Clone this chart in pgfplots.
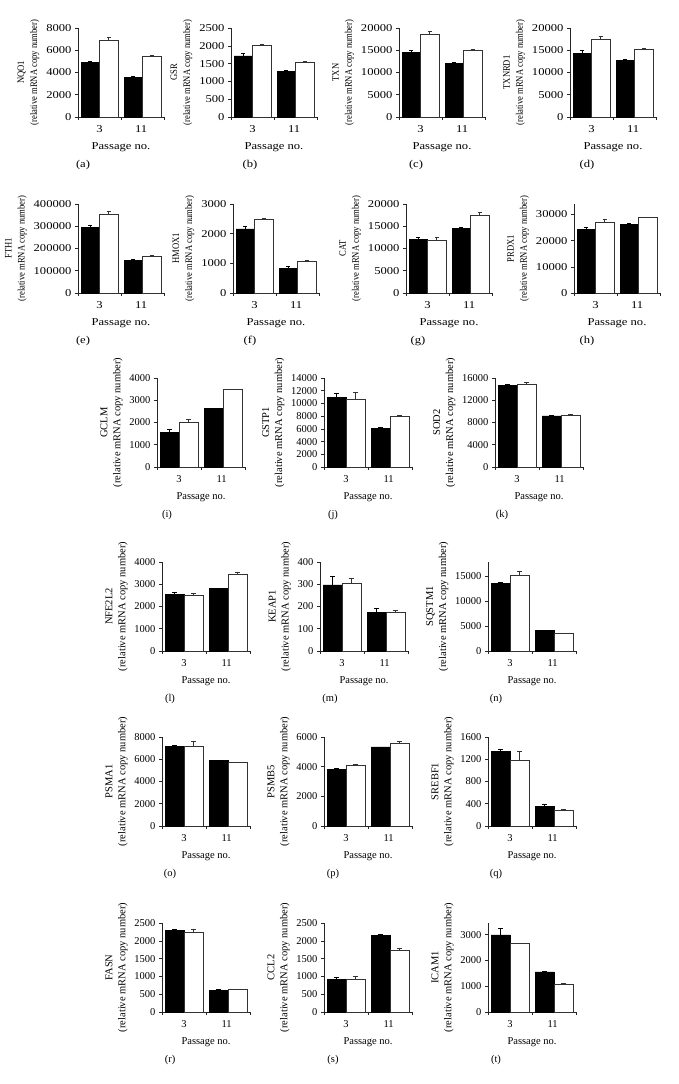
\documentclass[border=0pt]{standalone}
\usepackage{fontspec}
\setmainfont{Liberation Serif}
\newfontfamily\widefont{Liberation Serif}[FakeStretch=1.2]
\newfontfamily\narrowfont{Liberation Serif}[FakeStretch=0.86]
\usepackage{pgfplots}
\pgfplotsset{compat=1.18}

% rows 1-2 of the figure are stretched sideways, rows 3-6 are not
\def\tfont{\widefont}
\def\yfont{\narrowfont\fontsize{10}{13}\selectfont}

\pgfplotsset{
  panel/.style={
    scale only axis, width=86pt, height=89pt, anchor=south west,
    xmin=-0.5, xmax=1.5, ymin=0,
    axis x line=bottom, axis y line=left,
    axis line style={-, black!85, line width=0.6pt},
    tick align=outside, tick style={black!85, line width=0.6pt},
    major tick length=3pt,
    xtick={-0.5,0.5,1.5}, xticklabels={,,},
    extra x ticks={0,0.97}, extra x tick labels={3,11},
    extra x tick style={major tick length=0pt},
    xticklabel style={yshift=-5pt},
    scaled y ticks=false,
    tick label style={font=\tfont\fontsize{10.5}{12}\selectfont},
    /pgf/number format/.cd, fixed, 1000 sep={}, assume math mode=true, /pgfplots/.cd,
    xlabel={Passage no.},
    xlabel style={font=\tfont\fontsize{10.5}{12}\selectfont},
    ylabel style={font=\yfont, align=center},
  },
  blk/.style={ybar, bar width=0.43, bar shift=0pt, fill=black, draw=black, line width=0.5pt,
    error bars/.cd, y dir=plus, y explicit,
    error bar style={black, line width=0.6pt},
    error mark options={rotate=90, black, line width=0.6pt, mark size=2.2pt}},
  wht/.style={ybar, bar width=0.43, bar shift=0pt, fill=white, draw=black!80, line width=0.7pt,
    error bars/.cd, y dir=plus, y explicit,
    error bar style={black!80, line width=0.6pt},
    error mark options={rotate=90, black!80, line width=0.6pt, mark size=2.2pt}},
}
\tikzset{subcap/.style={font=\tfont\fontsize{10.5}{12}\selectfont}}

\begin{document}
\begin{tikzpicture}
\useasboundingbox (0,0) rectangle (678pt,-1084pt);

% ---- row 1
\begin{axis}[panel, at={(78pt,-117pt)}, ymax=8000, ytick={0,2000,...,8000}, ylabel={NQO1\\(relative mRNA copy number)}]
\addplot[blk] coordinates {(-0.215,4910) +- (0,100) (0.785,3590) +- (0,60)};
\addplot[wht] coordinates {(0.215,6920) +- (0,270) (1.215,5420) +- (0,150)};
\end{axis}
\node[subcap] at (83pt,-165pt) {(a)};

\begin{axis}[panel, at={(231pt,-117pt)}, ymax=2500, ytick={0,500,...,2500}, ylabel={GSR\\(relative mRNA copy number)}]
\addplot[blk] coordinates {(-0.215,1720) +- (0,60) (0.785,1280) +- (0,40)};
\addplot[wht] coordinates {(0.215,2020) +- (0,25) (1.215,1530) +- (0,25)};
\end{axis}
\node[subcap] at (250pt,-165pt) {(b)};

\begin{axis}[panel, at={(399pt,-117pt)}, ymax=20000, ytick={0,5000,...,20000}, ylabel={TXN\\(relative mRNA copy number)}]
\addplot[blk] coordinates {(-0.215,14600) +- (0,500) (0.785,12060) +- (0,200)};
\addplot[wht] coordinates {(0.215,18500) +- (0,650) (1.215,14980) +- (0,300)};
\end{axis}
\node[subcap] at (416pt,-165pt) {(c)};

\begin{axis}[panel, at={(570pt,-117pt)}, ymax=20000, ytick={0,5000,...,20000}, ylabel={TXNRD1\\(relative mRNA copy number)}]
\addplot[blk] coordinates {(-0.215,14380) +- (0,500) (0.785,12660) +- (0,200)};
\addplot[wht] coordinates {(0.215,17380) +- (0,650) (1.215,15200) +- (0,300)};
\end{axis}
\node[subcap] at (587pt,-165pt) {(d)};

% ---- row 2
\begin{axis}[panel, at={(78pt,-293pt)}, ymax=400000, ytick={0,100000,...,400000}, ylabel={FTH1\\(relative mRNA copy number)}]
\addplot[blk] coordinates {(-0.215,294700) +- (0,10000) (0.785,147400) +- (0,3000)};
\addplot[wht] coordinates {(0.215,354900) +- (0,12000) (1.215,163900) +- (0,4000)};
\end{axis}
\node[subcap] at (83pt,-341pt) {(e)};

\begin{axis}[panel, at={(233pt,-293pt)}, ymax=3000, ytick={0,1000,2000,3000}, ylabel={HMOX1\\(relative mRNA copy number)}]
\addplot[blk] coordinates {(-0.215,2165) +- (0,100) (0.785,823) +- (0,80)};
\addplot[wht] coordinates {(0.215,2480) +- (0,40) (1.215,1071) +- (0,35)};
\end{axis}
\node[subcap] at (250pt,-341pt) {(f)};

\begin{axis}[panel, at={(406pt,-293pt)}, ymax=20000, ytick={0,5000,...,20000}, ylabel={CAT\\(relative mRNA copy number)}]
\addplot[blk] coordinates {(-0.215,12100) +- (0,500) (0.785,14440) +- (0,300)};
\addplot[wht] coordinates {(0.215,11800) +- (0,680) (1.215,17440) +- (0,600)};
\end{axis}
\node[subcap] at (418pt,-341pt) {(g)};

\begin{axis}[panel, at={(574pt,-293pt)}, ymax=34000, ytick={0,10000,20000,30000}, ylabel={PRDX1\\(relative mRNA copy number)}]
\addplot[blk] coordinates {(-0.215,24300) +- (0,900) (0.785,26200) +- (0,300)};
\addplot[wht] coordinates {(0.215,27090) +- (0,1250) (1.215,28860) +- (0,250)};
\end{axis}
\node[subcap] at (587pt,-341pt) {(h)};

\def\tfont{\rmfamily}
\def\yfont{\rmfamily\fontsize{10.5}{13}\selectfont}

% ---- row 3
\begin{axis}[panel, width=88pt, at={(157pt,-467pt)}, ymax=4000, ytick={0,1000,...,4000}, ylabel={GCLM\\(relative mRNA copy number)}]
\addplot[blk] coordinates {(-0.215,1573) +- (0,100) (0.785,2622) +- (0,20)};
\addplot[wht] coordinates {(0.215,2022) +- (0,110) (1.215,3476) +- (0,25)};
\end{axis}
\node[subcap] at (167pt,-515pt) {(i)};

\begin{axis}[panel, width=88pt, at={(324pt,-467pt)}, ymax=14000, ytick={0,2000,...,14000}, ylabel={GSTP1\\(relative mRNA copy number)}]
\addplot[blk] coordinates {(-0.215,10990) +- (0,580) (0.785,6130) +- (0,160)};
\addplot[wht] coordinates {(0.215,10670) +- (0,1100) (1.215,7920) +- (0,160)};
\end{axis}
\node[subcap] at (333pt,-515pt) {(j)};

\begin{axis}[panel, width=88pt, at={(495pt,-467pt)}, ymax=16000, ytick={0,4000,...,16000}, ylabel={SOD2\\(relative mRNA copy number)}]
\addplot[blk] coordinates {(-0.215,14700) +- (0,130) (0.785,9200) +- (0,60)};
\addplot[wht] coordinates {(0.215,14900) +- (0,350) (1.215,9300) +- (0,120)};
\end{axis}
\node[subcap] at (502pt,-515pt) {(k)};

% ---- row 4
\begin{axis}[panel, width=88pt, at={(162pt,-651pt)}, ymax=4000, ytick={0,1000,...,4000}, ylabel={NFE2L2\\(relative mRNA copy number)}]
\addplot[blk] coordinates {(-0.215,2546) +- (0,80) (0.785,2820) +- (0,10)};
\addplot[wht] coordinates {(0.215,2500) +- (0,90) (1.215,3450) +- (0,90)};
\end{axis}
\node[subcap] at (170pt,-699pt) {(l)};

\begin{axis}[panel, width=88pt, at={(320pt,-651pt)}, ymax=400, ytick={0,100,...,400}, ylabel={KEAP1\\(relative mRNA copy number)}]
\addplot[blk] coordinates {(-0.215,297) +- (0,40) (0.785,174) +- (0,16)};
\addplot[wht] coordinates {(0.215,305) +- (0,23) (1.215,174) +- (0,7)};
\end{axis}
\node[subcap] at (330pt,-699pt) {(m)};

\begin{axis}[panel, width=88pt, at={(488pt,-651pt)}, ymax=17800, ytick={0,5000,10000,15000}, ylabel={SQSTM1\\(relative mRNA copy number)}]
\addplot[blk] coordinates {(-0.215,13470) +- (0,330) (0.785,4070) +- (0,130)};
\addplot[wht] coordinates {(0.215,15070) +- (0,800) (1.215,3470) +- (0,130)};
\end{axis}
\node[subcap] at (496pt,-699pt) {(n)};

% ---- row 5
\begin{axis}[panel, width=88pt, at={(162pt,-826pt)}, ymax=8000, ytick={0,2000,...,8000}, ylabel={PSMA1\\(relative mRNA copy number)}]
\addplot[blk] coordinates {(-0.215,7170) +- (0,120) (0.785,5890) +- (0,60)};
\addplot[wht] coordinates {(0.215,7170) +- (0,480) (1.215,5680) +- (0,90)};
\end{axis}
\node[subcap] at (170pt,-874pt) {(o)};

\begin{axis}[panel, width=88pt, at={(324pt,-826pt)}, ymax=6000, ytick={0,2000,4000,6000}, ylabel={PSMB5\\(relative mRNA copy number)}]
\addplot[blk] coordinates {(-0.215,3840) +- (0,50) (0.785,5330) +- (0,0)};
\addplot[wht] coordinates {(0.215,4110) +- (0,50) (1.215,5560) +- (0,130)};
\end{axis}
\node[subcap] at (333pt,-874pt) {(p)};

\begin{axis}[panel, width=88pt, at={(488pt,-826pt)}, ymax=1600, ytick={0,400,...,1600}, ylabel={SREBF1\\(relative mRNA copy number)}]
\addplot[blk] coordinates {(-0.215,1338) +- (0,50) (0.785,350) +- (0,35)};
\addplot[wht] coordinates {(0.215,1180) +- (0,170) (1.215,290) +- (0,10)};
\end{axis}
\node[subcap] at (496pt,-874pt) {(q)};

% ---- row 6
\begin{axis}[panel, width=88pt, at={(162pt,-1012pt)}, ymax=2500, ytick={0,500,...,2500}, ylabel={FASN\\(relative mRNA copy number)}]
\addplot[blk] coordinates {(-0.215,2285) +- (0,40) (0.785,618) +- (0,20)};
\addplot[wht] coordinates {(0.215,2238) +- (0,75) (1.215,646) +- (0,0)};
\end{axis}
\node[subcap] at (170pt,-1060pt) {(r)};

\begin{axis}[panel, width=88pt, at={(324pt,-1012pt)}, ymax=2500, ytick={0,500,...,2500}, ylabel={CCL2\\(relative mRNA copy number)}]
\addplot[blk] coordinates {(-0.215,918) +- (0,65) (0.785,2163) +- (0,30)};
\addplot[wht] coordinates {(0.215,918) +- (0,85) (1.215,1742) +- (0,40)};
\end{axis}
\node[subcap] at (333pt,-1060pt) {(s)};

\begin{axis}[panel, width=88pt, at={(488pt,-1012pt)}, ymax=3450, ytick={0,1000,2000,3000}, ylabel={ICAM1\\(relative mRNA copy number)}]
\addplot[blk] coordinates {(-0.215,2990) +- (0,240) (0.785,1560) +- (0,30)};
\addplot[wht] coordinates {(0.215,2650) +- (0,30) (1.215,1080) +- (0,50)};
\end{axis}
\node[subcap] at (496pt,-1060pt) {(t)};
\end{tikzpicture}
\end{document}
